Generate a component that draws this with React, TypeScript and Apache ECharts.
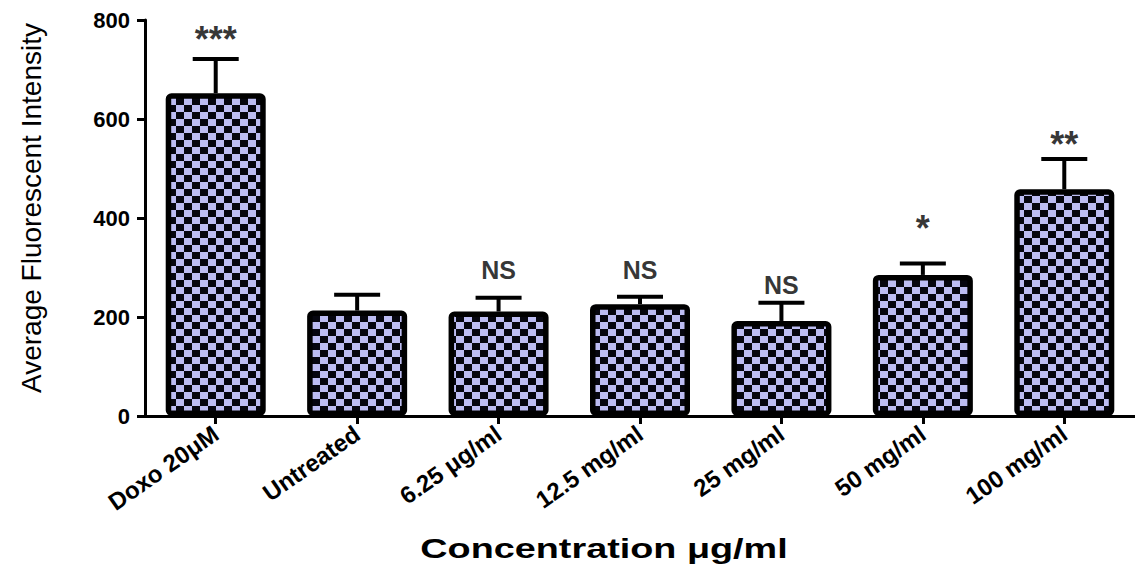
import React, { useEffect, useRef } from "react";
import * as echarts from "echarts";

const categories = [
  "Doxo 20μM",
  "Untreated",
  "6.25 μg/ml",
  "12.5 mg/ml",
  "25 mg/ml",
  "50 mg/ml",
  "100 mg/ml",
];
const meanValues = [652, 213, 211, 226, 192, 285, 458];
const errorUpper = [721, 245, 239, 241, 229, 308, 519];
const sigLabels = ["***", "", "NS", "NS", "NS", "*", "**"];
const sigLabelY = [760, null, 295, 295, 265, 378, 548];
const yTicks = [0, 200, 400, 600, 800];

function makePattern(): string {
  const c = document.createElement("canvas");
  c.width = 16;
  c.height = 14;
  const ctx = c.getContext("2d")!;
  ctx.fillStyle = "#bcbcf2";
  ctx.fillRect(0, 0, 16, 14);
  ctx.fillStyle = "#06060f";
  ctx.fillRect(0, 0, 8, 7);
  ctx.fillRect(8, 7, 8, 7);
  return c.toDataURL();
}

export default function App() {
  const ref = useRef<HTMLDivElement>(null);
  useEffect(() => {
    if (!ref.current) return;
    const chart = echarts.init(ref.current, null, { renderer: "svg" });
    const pattern = makePattern();
    const font = "'Liberation Sans', Arial, sans-serif";
    chart.setOption({
      animation: false,
      backgroundColor: "#ffffff",
      grid: { left: 145, right: -5, top: 20, bottom: 157, containLabel: false },
      xAxis: {
        type: "category",
        data: categories,
        axisLine: { show: true, lineStyle: { color: "#000", width: 3 } },
        axisTick: { show: true, alignWithLabel: true, length: 8, lineStyle: { color: "#000", width: 3 } },
        axisLabel: {
          rotate: 35,
          margin: 15,
          color: "#000",
          fontSize: 24,
          fontWeight: "bold",
          fontFamily: font,
          interval: 0,
        },
        splitLine: { show: false },
      },
      yAxis: {
        type: "value",
        min: yTicks[0],
        max: yTicks[yTicks.length - 1],
        interval: 200,
        axisLine: { show: true, lineStyle: { color: "#000", width: 3 } },
        axisTick: { show: true, length: 8, lineStyle: { color: "#000", width: 3 } },
        axisLabel: {
          margin: 15,
          color: "#000",
          fontSize: 22,
          fontWeight: "bold",
          fontFamily: font,
        },
        splitLine: { show: false },
      },
      graphic: [
        {
          type: "text",
          x: 604,
          y: 549,
          scaleX: 1.4,
          style: {
            text: "Concentration μg/ml",
            fill: "#000",
            font: "bold 27px 'Liberation Sans', Arial, sans-serif",
            textAlign: "center",
            textVerticalAlign: "middle",
          },
        },
        {
          type: "text",
          x: 31,
          y: 208,
          rotation: Math.PI / 2,
          style: {
            text: "Average Fluorescent Intensity",
            fill: "#000",
            font: "28px 'Liberation Sans', Arial, sans-serif",
            textAlign: "center",
            textVerticalAlign: "middle",
          },
        },
      ],
      series: [
        {
          type: "bar",
          data: meanValues,
          barWidth: 100,
          itemStyle: {
            color: { image: pattern, repeat: "repeat" },
            borderColor: "#000",
            borderWidth: 5.5,
            borderRadius: 3,
          },
          z: 2,
        },
        {
          type: "custom",
          data: meanValues.map((m, i) => [i, m, errorUpper[i]]),
          renderItem: (params: any, api: any) => {
            const i = api.value(0);
            const base = api.coord([i, api.value(1)]);
            const top = api.coord([i, api.value(2)]);
            const half = 23;
            return {
              type: "group",
              children: [
                {
                  type: "line",
                  shape: { x1: base[0], y1: base[1], x2: top[0], y2: top[1] },
                  style: { stroke: "#000", lineWidth: 4 },
                },
                {
                  type: "line",
                  shape: { x1: top[0] - half, y1: top[1], x2: top[0] + half, y2: top[1] },
                  style: { stroke: "#000", lineWidth: 4 },
                },
              ],
            };
          },
          z: 1,
        },
        {
          type: "scatter",
          symbolSize: 0,
          data: sigLabelY.map((y, i) => (y == null ? null : [i, y])),
          label: {
            show: true,
            position: "inside",
            formatter: (p: any) => {
              const s = sigLabels[p.dataIndex];
              return s === "NS" ? "{n|" + s + "}" : "{a|" + s + "}";
            },
            rich: {
              n: { color: "#000", fontSize: 25, fontWeight: "bold", fontFamily: font },
              a: { color: "#000", fontSize: 36, fontWeight: "bold", fontFamily: font },
            },
          },
          z: 3,
        },
      ],
    });
    return () => chart.dispose();
  }, []);
  return (
    <div
      ref={ref}
      style={{ position: "absolute", left: 0, top: 0, width: 1135, height: 573 }}
    />
  );
}
